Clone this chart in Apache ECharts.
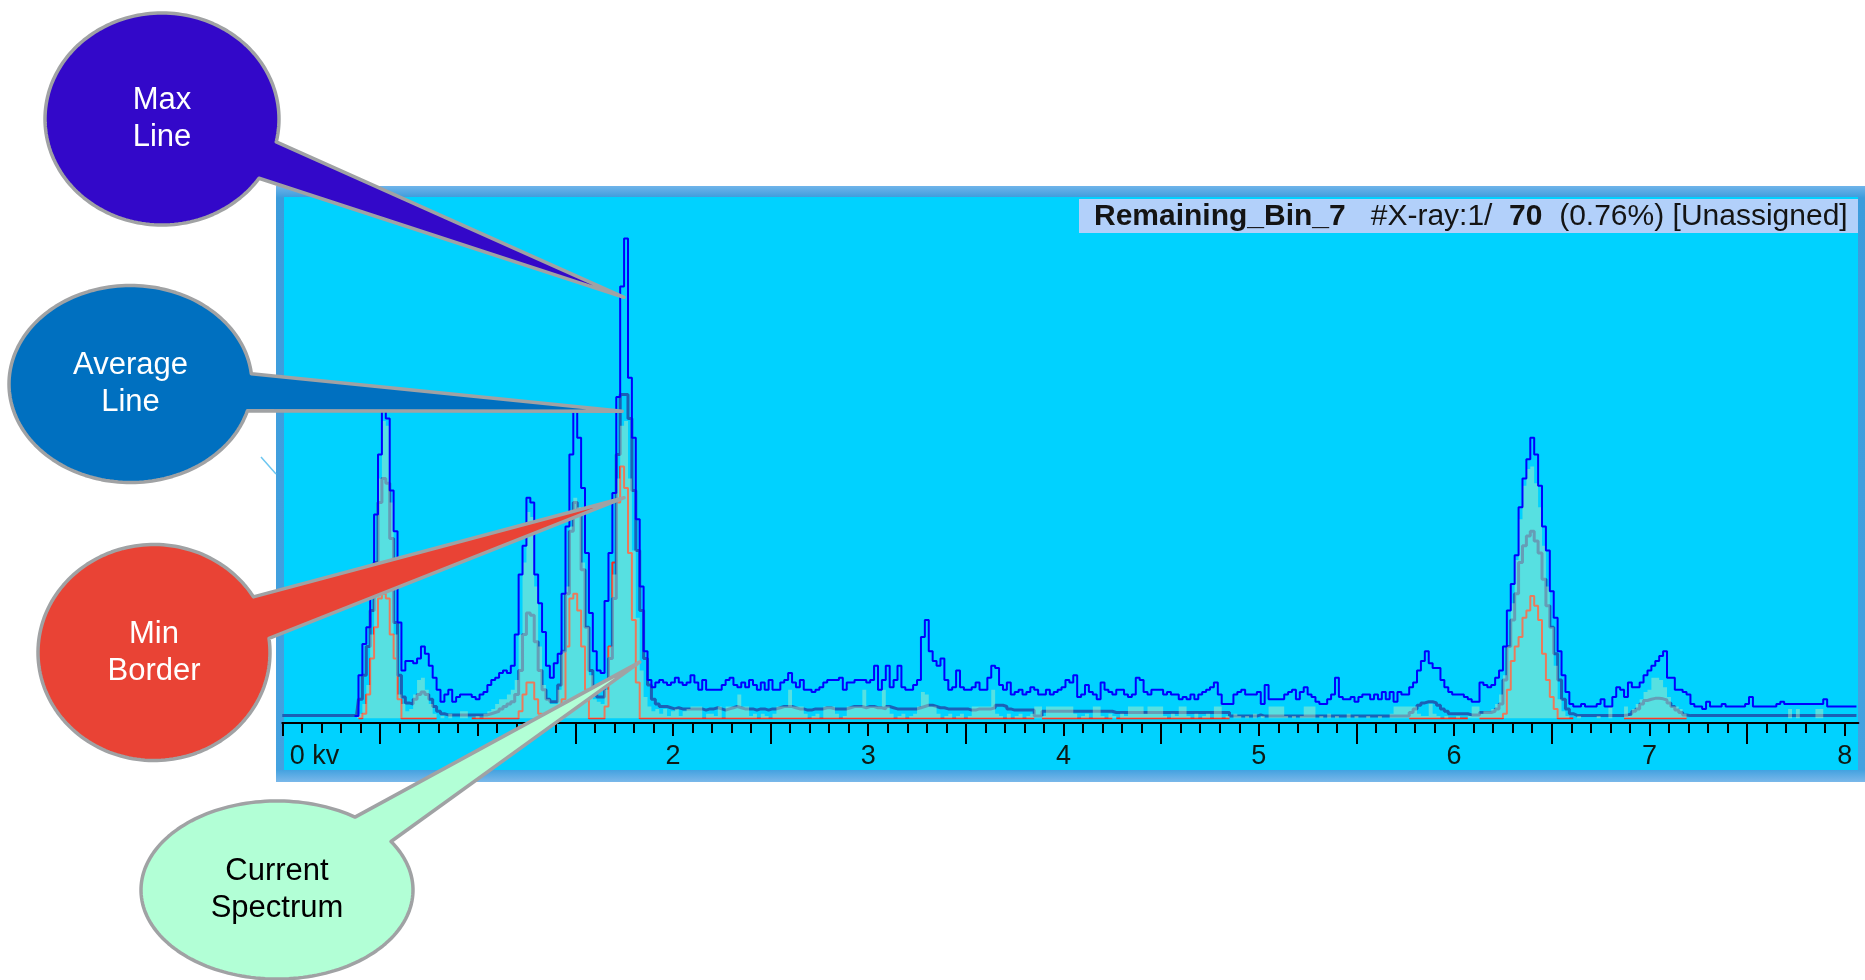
<!DOCTYPE html>
<html>
<head>
<meta charset="utf-8">
<script src="https://cdn.jsdelivr.net/npm/echarts@6/dist/echarts.min.js"></script>
<style>
  html, body { margin: 0; padding: 0; background: #ffffff; }
  #chart { width: 1865px; height: 980px; }
</style>
</head>
<body>
<div id="chart"></div>
<script>
// EDS spectrum viewer: max / average / min envelopes of a bin plus the current spectrum.
// One value per 20 eV channel, starting at 0 kV.
const CHANNEL_KV = 0.02;
const _ = null; // channel without a drawn value

const maxLine = [
  _,_,_,_,_,_,_,_,_,_,_,_,_,_,_,_,_,_,_,1,
  18,31,38,55,85,110,136,125,95,78,40,20,24,24,23,25,30,27,22,17,
  12,7,10,12,7,9,10,10,10,9,8,10,11,14,16,17,19,20,19,22,
  35,60,72,92,90,60,48,36,22,17,23,27,52,80,110,128,117,96,69,44,
  28,20,19,49,69,94,134,180,200,142,117,83,55,28,16,13,15,16,15,14,
  15,17,15,14,15,18,15,12,16,12,12,12,12,14,16,17,14,13,15,13,
  16,14,12,15,12,16,12,12,15,16,19,15,13,16,12,12,11,12,13,15,
  16,16,16,17,12,15,15,16,16,16,15,16,22,12,16,22,13,16,22,13,
  12,12,14,16,34,41,28,24,22,25,16,12,13,20,13,12,12,13,15,12,
  12,17,22,21,14,12,15,10,11,12,10,11,13,12,10,10,12,10,11,12,
  13,16,15,18,9,10,14,11,10,8,15,12,11,10,12,12,10,9,10,17,
  16,11,10,12,12,12,10,11,10,10,8,9,8,10,8,10,11,12,13,15,
  10,6,6,6,10,11,12,10,10,10,11,6,14,8,8,8,8,10,11,12,
  8,11,13,10,9,7,6,6,8,10,17,9,8,8,9,7,9,10,10,8,
  10,8,11,8,11,7,11,10,10,13,15,20,24,28,23,21,21,16,13,11,
  10,10,10,9,8,7,7,15,14,13,14,17,20,30,45,56,68,88,100,108,
  117,110,97,80,70,53,42,28,18,11,6,5,5,6,5,5,5,6,8,5,
  5,9,13,12,9,15,13,13,15,18,20,22,24,26,28,17,17,12,12,11,
  10,6,5,5,4,7,5,5,5,6,5,5,5,5,5,6,9,5,5,5,
  5,5,5,6,7,6,6,6,6,6,6,6,6,6,6,8,5,5,5,5,
  5,5,5,5
];

const averageLine = [
  1.3,1.3,1.3,1.3,1.3,1.3,1.3,1.3,1.3,1.3,1.3,1.3,1.3,1.3,1.3,1.3,1.3,1.3,1.3,1.3,
  8,18,30,45,65,90,100,98,75,40,18,9,6.5,6,8,10,11,10,8,5,
  3,2,1.5,1.5,1.5,1.5,1.5,1.5,1.5,1.5,1.5,1.5,1.5,2,2.5,3,4,5,6,7,
  10,20,35,44,43,32,20,12,8,7,7,14,28,52,78,90,86,62,38,20,
  10,9,9,14,25,50,110,135,135,125,95,70,45,25,14,8,6,5,5,4.5,
  4,4.5,4,4,4,4,4,4,3.5,4,4,4.5,4,3.5,4,4.5,5,4.5,4,4,
  4,3.5,4,4,3.5,4,4,4.5,5,5,5,4.5,4,4,3.5,3.5,4,4,4,4.5,
  4.5,4,4,4,4,4.5,5,5,5,4.5,5,5,4.5,4.5,4,5,4.5,4,4,4,
  4,4,4,4.5,5,5.5,5.5,5,4.5,4.5,4,4,4,4,4,4,3.5,3.5,4,4,
  4,4,4.5,5.5,5.5,5,4,3.5,3.5,3.5,3.5,3.5,3.5,1,1,3,3,3,3,3,
  3,3,3,3,3,3,3,3,3,3,3,3,3,2.5,2.5,2.5,2.5,2.5,2.5,2.5,
  2.5,2.5,2.5,2.5,2.5,2.5,2.5,2.5,2.5,2.5,2.5,2.5,2.5,2.5,2.5,2.5,2.5,2.5,2.5,2.5,
  2.5,2.5,2.5,1,1,1,1,1,1,1,1.5,1,1,1,1,1,1,1,1,1,
  1,1,1,1,1,1,1,1,1,1,1,1,1,1,1,1,1,1,1,1,
  1,1,1,1,1,1,1,1,1,2.5,4,5.5,6.5,7,7,6.5,5.5,4,3,2,
  2,2,2,2,1.5,1.5,1.5,2.5,2.5,2.5,3,4,6,16,30,41,52,65,72,76,
  78,74,69,58,47,38,27,16,8,4,2,1.3,1.3,1.3,1.3,1.3,1.3,1.3,1.3,1.3,
  1.3,1.3,1.3,1.3,1.5,2,3,4,6,7.5,8,8.4,8.4,8.2,7.7,6.5,5,3.5,2.5,1.5,
  1.2,1.2,1.2,1.2,1.2,1.2,1.2,1.2,1.2,1.2,1.2,1.2,1.2,1.2,1.2,1.2,1.2,1.2,1.2,1.2,
  1.2,1.2,1.2,1.2,1.2,1.2,1.2,1.2,1.2,1.2,1.2,1.2,1.2,1.2,1.2,1.2,1.2,1.2,1.2,1.2,
  1.2,1.2,1.2,1.2
];

const currentSpectrum = [
  0,0,0,0,0,0,0,0,0,0,0,0,0,0,0,0,0,0,0,0,
  2,6,14,35,60,100,124,122,90,35,10,6,3,4,10,16,17,12,6,2,
  0,1,0,2,0,0,3,3,0,0,1,0,2,3,4,6,8,8,10,12,
  16,35,65,86,84,55,30,14,8,6,6,12,28,55,80,92,88,65,38,18,
  8,7,6,12,30,60,100,122,124,100,70,42,20,9,5,3,4,2,4,1,
  3,4,1,3,4,5,5,5,0,2,2,1,5,0,5,5,5,10,5,5,
  1,2,0,2,1,0,2,5,5,5,12,5,5,5,2,0,1,2,0,5,
  5,5,2,0,1,5,5,5,5,12,5,5,5,5,12,5,2,0,1,2,
  0,1,2,5,11,10,5,5,2,0,1,2,0,1,2,0,1,5,5,5,
  5,5,12,2,1,0,2,0,1,2,0,1,2,5,5,1,5,5,5,5,
  5,5,5,2,0,1,2,0,5,5,1,0,2,1,0,2,1,5,5,5,
  5,2,5,5,5,5,1,0,2,1,5,5,1,0,2,0,1,2,0,5,
  5,0,1,0,2,1,0,1,0,2,0,1,0,5,5,5,5,1,0,1,
  0,1,5,5,5,0,1,0,2,0,1,0,0,2,0,1,0,0,1,0,
  0,1,0,0,2,5,5,5,5,5,5,2,1,1,6,2,1,0,1,0,
  0,1,0,0,1,5,5,2,3,3,4,6,10,18,30,48,66,83,97,104,
  105,98,88,72,55,38,22,8,3,1,0,0,1,0,0,0,0,1,0,0,
  5,0,0,0,5,1,4,6,8,11,12,17,17,16,13,9,5,5,4,2,
  0,0,0,0,0,0,0,0,0,0,0,0,0,0,0,0,0,0,0,0,
  0,0,0,0,0,0,4,0,4,0,0,0,0,4,4,0,0,0,0,0,
  0,0,0,0
];

const minBorder = [
  _,_,_,_,_,_,_,_,_,_,_,_,_,_,_,_,_,_,_,_,
  0,2,10,25,38,50,52,50,35,25,8,0,0,0,0,0,0,0,0,0,
  _,_,_,_,_,_,_,_,_,0,0,0,0,0,0,0,0,0,0,0,
  0,3,10,15,15,8,2,0,0,0,0,0,8,30,50,52,45,30,12,0,
  0,0,0,5,30,65,90,105,96,69,41,15,0,0,0,0,0,0,0,0,
  0,0,0,0,0,0,0,0,0,0,0,0,0,0,0,0,0,0,0,0,
  0,0,0,0,0,0,0,0,0,0,0,0,0,0,0,0,0,0,0,0,
  0,0,0,0,0,0,0,0,0,0,0,0,0,0,0,0,0,0,0,0,
  0,0,0,0,0,0,0,0,0,0,0,0,0,0,0,0,0,0,0,0,
  0,0,0,0,0,0,0,0,0,0,0,0,0,_,_,0,0,0,0,0,
  0,0,0,0,0,0,0,0,0,0,0,0,0,_,0,0,0,0,0,0,
  0,0,0,0,0,0,0,0,0,0,0,0,0,0,0,0,0,0,0,0,
  0,0,0,_,_,_,_,_,_,_,_,_,_,_,_,_,_,_,_,_,
  _,_,_,_,_,_,_,_,_,_,_,_,_,_,_,_,_,_,_,_,
  _,_,_,_,_,_,_,_,_,0,0,0,0,0,0,0,0,0,0,0,
  0,0,0,0,_,_,_,0,0,0,0,0,0,2,12,24,30,34,42,45,
  51,47,41,27,16,9,4,0,0,0,0,_,_,_,_,_,_,_,_,_,
  _,_,_,_,0,0,0,0,0,0,0,0,0,0,0,0,0,0,0,0,
  _,_,_,_,_,_,_,_,_,_,_,_,_,_,_,_,_,_,_,_,
  _,_,_,_,_,_,_,_,_,_,_,_,_,_,_,_,_,_,_,_,
  _,_,_,_
];

// axis marks, kV (the 1 kV label sits under the "Current Spectrum" pointer)
const kvTicks = [0, 1, 2, 3, 4, 5, 6, 7, 8];
const kvTickLabels = [0, 2, 3, 4, 5, 6, 7, 8];
const halfKvTicks = [0.5, 1.5, 2.5, 3.5, 4.5, 5.5, 6.5, 7.5];

// header text of the bin
const binName = 'Remaining_Bin_7';
const xrayIndex = '#X-ray:1/';
const xrayCount = '70';
const binShare = '(0.76%) [Unassigned]';

// callouts: label and the spot (kV, counts) each one points at
const calloutLabels = ['Max\nLine', 'Average\nLine', 'Min\nBorder', 'Current\nSpectrum'];
const calloutTargets = [[1.75, 175.5], [1.74, 128], [1.75, 92], [1.83, 23.5]];

const minorKvTicks = [];
for (let k = 0; k <= 80; k++) {
  if (k % 5 !== 0) minorKvTicks.push(k / 10);
}

const toPairs = arr => arr.map((v, i) => [+(i * CHANNEL_KV).toFixed(2), v]);

const chart = echarts.init(document.getElementById('chart'), null, { renderer: 'canvas', width: 1865, height: 980 });

const X_MAX = 8.07;
const baseAxis = {
  type: 'value', min: 0, max: X_MAX, position: 'bottom', offset: 4.5,
  splitLine: { show: false }
};
const HEADER_FONT = 'Liberation Sans, Arial, sans-serif';

chart.setOption({
  animation: false,
  backgroundColor: '#ffffff',
  grid: { left: 282.3, right: 6.6, top: 214.5, bottom: 261.5, containLabel: false, outerBoundsMode: 'none' },
  xAxis: [
    Object.assign({}, baseAxis, {
      axisLine: { show: true, onZero: false, lineStyle: { color: '#000000', width: 2 } },
      axisTick: { show: true, customValues: kvTicks, length: 13, lineStyle: { color: '#000000', width: 2 } },
      axisLabel: {
        show: true, customValues: kvTickLabels, margin: 20,
        formatter: v => (v === 0 ? ' 0 kv' : String(v)),
        alignMinLabel: 'left',
        fontSize: 27, fontFamily: 'Liberation Sans, Arial, sans-serif', color: '#0e1a14'
      }
    }),
    Object.assign({}, baseAxis, {
      axisLine: { show: false, onZero: false },
      axisTick: { show: true, customValues: minorKvTicks, length: 10, lineStyle: { color: '#000000', width: 2 } },
      axisLabel: { show: false }
    }),
    Object.assign({}, baseAxis, {
      axisLine: { show: false, onZero: false },
      axisTick: { show: true, customValues: halfKvTicks, length: 21, lineStyle: { color: '#000000', width: 2 } },
      axisLabel: { show: false }
    })
  ],
  yAxis: { type: 'value', min: 0, max: 210, show: false },
  series: [
    {
      name: 'Min Border', type: 'line', step: 'middle', xAxisIndex: 0, z: 3,
      data: toPairs(minBorder), showSymbol: false, symbol: 'none', connectNulls: false,
      lineStyle: { color: '#ff2418', width: 2 }
    },
    {
      name: 'Average Line', type: 'line', step: 'middle', xAxisIndex: 0, z: 4,
      data: toPairs(averageLine), showSymbol: false, symbol: 'none',
      lineStyle: { color: '#1b60b6', width: 3 }
    },
    {
      name: 'Current Spectrum', type: 'line', step: 'middle', xAxisIndex: 0, z: 5,
      data: toPairs(currentSpectrum), showSymbol: false, symbol: 'none',
      lineStyle: { width: 0, opacity: 0 },
      areaStyle: { color: 'rgba(208,243,183,0.6)', origin: 'start' }
    },
    {
      name: 'Max Line', type: 'line', step: 'middle', xAxisIndex: 0, z: 6,
      data: toPairs(maxLine), showSymbol: false, symbol: 'none', connectNulls: false,
      lineStyle: { color: '#0000ff', width: 2 }
    }
  ],
  graphic: {
    elements: [
      { id: 'frame', type: 'rect', z: -10, shape: { x: 276, y: 186, width: 1589, height: 596 },
        style: { fill: new echarts.graphic.LinearGradient(0, 0, 0, 1, [
          { offset: 0, color: '#6fb4ea' }, { offset: 0.02, color: '#3c9cdc' },
          { offset: 0.98, color: '#44a2e0' }, { offset: 1, color: '#7ab8ea' }]) } },
      { id: 'plotBg', type: 'rect', z: -9, shape: { x: 284, y: 197, width: 1574, height: 573 },
        style: { fill: '#00d2ff' } },
      { id: 'tick', type: 'line', z: -8, shape: { x1: 261, y1: 457, x2: 276, y2: 474 },
        style: { stroke: '#6cc6f0', lineWidth: 1.5 } },
      { id: 'binBox', type: 'rect', z: 10, shape: { x: 1079, y: 199, width: 779, height: 34 },
        style: { fill: '#b2d0fa' } },
      { id: 'binText', type: 'text', z: 11, x: 1094, y: 217,
        style: {
          text: '{b|' + binName + '}   ' + xrayIndex + '  {b|' + xrayCount + '}  ' + binShare,
          fontSize: 30, fontFamily: HEADER_FONT,
          fill: '#141414', align: 'left', verticalAlign: 'middle',
          rich: { b: { fontWeight: 'bold', fontSize: 30, fontFamily: HEADER_FONT, fill: '#141414' } }
        } }
    ]
  }
});

// speech-bubble callouts, each tip placed on its target through the chart's own scales
const bubbles = [
  { cx: 162, cy: 119, rx: 117, ry: 106, a0: 12.5, a1: 34, fill: '#3308c9', text: '#ffffff' },
  { cx: 130.5, cy: 384, rx: 121.5, ry: 98.5, a0: -6, a1: 15.8, fill: '#0070c0', text: '#ffffff' },
  { cx: 154, cy: 652.5, rx: 116, ry: 108, a0: -31, a1: -7.5, fill: '#e94335', text: '#ffffff' },
  { cx: 277, cy: 890, rx: 136, ry: 89, a0: -55, a1: -33, fill: '#b2ffd6', text: '#000000' }
];

const calloutEls = [];
bubbles.forEach((b, idx) => {
  const tip = chart.convertToPixel({ xAxisIndex: 0, yAxisIndex: 0 }, calloutTargets[idx]);
  const pts = [];
  for (let a = b.a1; a <= b.a0 + 360; a += 2) {
    const r = a * Math.PI / 180;
    pts.push([b.cx + b.rx * Math.cos(r), b.cy + b.ry * Math.sin(r)]);
  }
  const rEnd = (b.a0 + 360) * Math.PI / 180;
  pts.push([b.cx + b.rx * Math.cos(rEnd), b.cy + b.ry * Math.sin(rEnd)]);
  pts.push(tip);
  calloutEls.push({
    id: 'bubble' + idx, type: 'polygon', z: 100,
    shape: { points: pts },
    style: { fill: b.fill, stroke: '#a0a2a4', lineWidth: 3.5, lineJoin: 'round' }
  });
  calloutEls.push({
    id: 'bubbleText' + idx, type: 'text', z: 101, x: b.cx, y: b.cy,
    style: {
      text: calloutLabels[idx], fontSize: 31, lineHeight: 37,
      fontFamily: 'Liberation Sans, Arial, sans-serif', fill: b.text,
      align: 'center', verticalAlign: 'middle'
    }
  });
});

chart.setOption({ graphic: { elements: calloutEls } });
</script>
</body>
</html>
